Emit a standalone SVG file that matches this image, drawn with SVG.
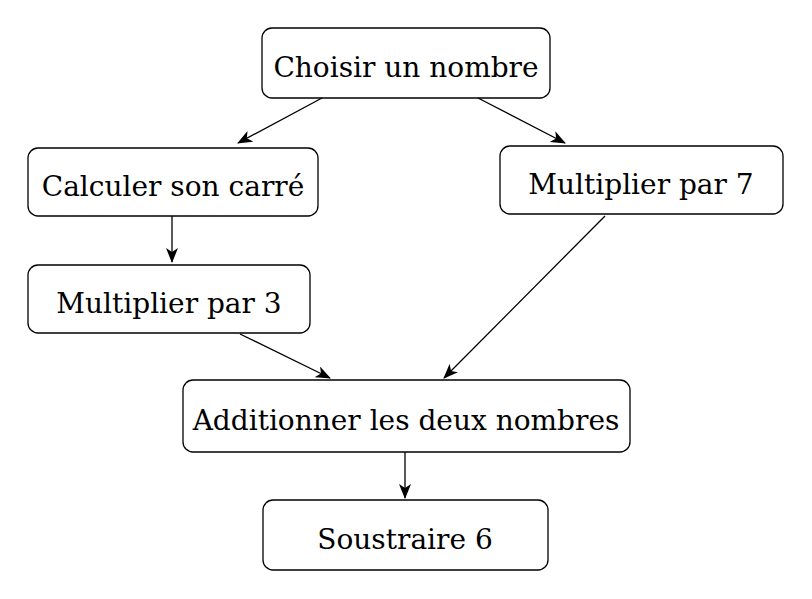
<svg xmlns="http://www.w3.org/2000/svg" width="812" height="599" viewBox="0 0 812 599">
<style>
rect{fill:#fff;stroke:#000;stroke-width:1.3}
text{font-family:"DejaVu Serif",serif;font-size:28px;text-anchor:middle;fill:#000}
.c line{stroke:#000;stroke-width:1.3;marker-end:url(#a)}
</style>
<defs><marker id="a" viewBox="0 0 15 12" refX="14" refY="6" markerWidth="15" markerHeight="12" markerUnits="userSpaceOnUse" orient="auto"><path d="M0,0 L15,6 L0,12 L4,6 Z" fill="#000"/></marker></defs>
<rect width="812" height="599" style="stroke:none"/>
<g id="n1"><rect x="262" y="28" width="288" height="70" rx="10"/><text x="406" y="77">Choisir un nombre</text></g>
<g id="n2"><rect x="28" y="148" width="290" height="68" rx="10"/><text x="173" y="196">Calculer son carré</text></g>
<g id="n3"><rect x="500" y="146" width="283" height="68" rx="10"/><text x="641" y="194">Multiplier par 7</text></g>
<g id="n4"><rect x="28" y="265" width="282" height="68" rx="10"/><text x="169" y="313">Multiplier par 3</text></g>
<g id="n5"><rect x="183" y="380" width="447" height="72" rx="10"/><text x="406" y="430">Additionner les deux nombres</text></g>
<g id="n6"><rect x="263" y="500" width="285" height="70" rx="10"/><text x="405" y="549">Soustraire 6</text></g>
<g class="c">
<line x1="322" y1="98" x2="238" y2="143"/>
<line x1="478" y1="98" x2="565" y2="143"/>
<line x1="172" y1="216" x2="172" y2="262"/>
<line x1="240" y1="334" x2="330" y2="378"/>
<line x1="605" y1="216" x2="444" y2="378"/>
<line x1="405" y1="452" x2="405" y2="498"/>
</g>
</svg>
